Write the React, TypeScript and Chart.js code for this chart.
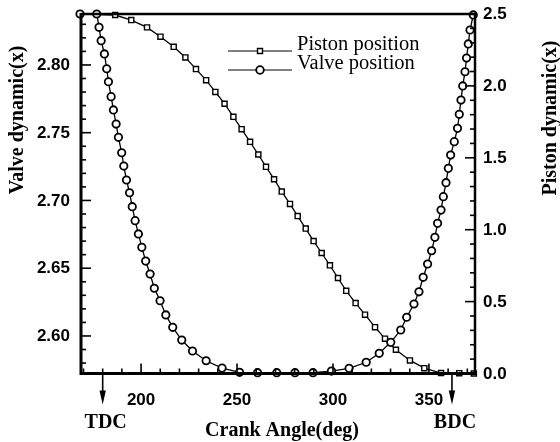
import React, { useEffect, useRef } from 'react';
import { Chart, registerables } from 'chart.js';

Chart.register(...registerables);

// Crank angle (deg) and valve dynamic (x), left axis
const valveAngle = [168.2, 176.9, 178.1, 179.2, 180.9, 182.1, 183.0, 184.4, 185.6, 187.0, 188.2, 189.9, 191.0, 192.4, 194.0, 195.4, 196.9, 198.6, 200.4, 202.4, 204.7, 206.9, 209.9, 212.9, 216.5, 221.2, 226.8, 233.9, 242.2, 251.3, 260.7, 270.7, 280.2, 289.6, 299.2, 308.4, 317.3, 324.1, 330.1, 335.3, 338.4, 342.2, 344.8, 347.0, 349.3, 351.4, 353.1, 354.5, 356.3, 357.5, 358.9, 360.1, 361.3, 363.2, 364.9, 365.8, 366.7, 367.6, 368.8, 369.6, 370.5, 371.4, 373.1];
const valveValue = [2.8376, 2.8376, 2.8278, 2.8179, 2.8081, 2.7972, 2.7876, 2.7766, 2.7668, 2.7564, 2.7466, 2.7352, 2.7254, 2.7151, 2.7057, 2.6954, 2.6851, 2.6753, 2.6654, 2.6553, 2.6457, 2.6352, 2.6260, 2.6155, 2.6064, 2.5970, 2.5889, 2.5817, 2.5763, 2.5732, 2.5729, 2.5729, 2.5729, 2.5729, 2.5741, 2.5761, 2.5806, 2.5872, 2.5953, 2.6044, 2.6138, 2.6236, 2.6326, 2.6433, 2.6531, 2.6629, 2.6728, 2.6831, 2.6929, 2.7028, 2.7131, 2.7237, 2.7335, 2.7434, 2.7532, 2.7636, 2.7741, 2.7845, 2.7950, 2.8051, 2.8155, 2.8258, 2.8369];

// Crank angle (deg) and piston dynamic (x), right axis
const pistonAngle = [168.2, 186.5, 194.9, 203.1, 210.1, 217.0, 223.1, 228.6, 233.9, 238.7, 243.5, 248.1, 252.4, 256.8, 261.1, 265.1, 269.3, 273.3, 277.6, 281.6, 285.8, 289.9, 294.1, 298.4, 302.6, 306.9, 311.8, 316.7, 321.9, 327.1, 332.8, 340.1, 347.6, 356.3, 365.8, 373.4];
const pistonValue = [2.5, 2.493, 2.458, 2.407, 2.342, 2.272, 2.198, 2.117, 2.040, 1.958, 1.876, 1.785, 1.699, 1.611, 1.523, 1.437, 1.351, 1.265, 1.179, 1.095, 1.008, 0.921, 0.838, 0.752, 0.664, 0.575, 0.490, 0.409, 0.322, 0.242, 0.165, 0.091, 0.037, 0.003, 0.002, 0];

const xTickLabels = [200, 250, 300, 350];
const leftTickLabels = [2.60, 2.65, 2.70, 2.75, 2.80];
const rightTickLabels = [0.0, 0.5, 1.0, 1.5, 2.0, 2.5];
const deadCentreNames = ['TDC', 'BDC'];
const deadCentreAngles = [180, 362];

const X_MIN = 168.7, X_MAX = 374;
const YL_MIN = 2.5723, YL_MAX = 2.8376;
const YR_MIN = 0, YR_MAX = 2.5;

const SANS = '"Liberation Sans", Arial, sans-serif';
const SERIF = '"Liberation Serif", "Times New Roman", serif';

function range(from: number, to: number, step: number): number[] {
  const out: number[] = [];
  const n = Math.round((to - from) / step);
  for (let i = 0; i <= n; i++) out.push(+(from + i * step).toFixed(4));
  return out;
}

const axesPlugin = {
  id: 'tecplotAxes',
  afterDatasetsDraw(chart: any) {
    const { ctx, chartArea: a, scales } = chart;
    const sx = scales.x, syl = scales.y, syr = scales.y1;
    ctx.save();
    ctx.strokeStyle = '#000';
    ctx.fillStyle = '#000';
    ctx.lineCap = 'butt';

    // frame
    ctx.lineWidth = 3;
    ctx.beginPath();
    ctx.moveTo(a.left, a.top - 1);
    ctx.lineTo(a.left, a.bottom + 1.5);
    ctx.moveTo(a.left - 1.5, a.bottom);
    ctx.lineTo(a.right + 1.5, a.bottom);
    ctx.stroke();
    ctx.lineWidth = 2.5;
    ctx.beginPath();
    ctx.moveTo(a.left, a.top);
    ctx.lineTo(a.right, a.top);
    ctx.moveTo(a.right, a.top - 1);
    ctx.lineTo(a.right, a.bottom);
    ctx.stroke();

    const isMajor = (v: number, majors: number[]) => majors.some((m) => Math.abs(m - v) < 1e-6);

    ctx.lineWidth = 1.6;
    // bottom ticks (inward)
    for (const v of range(170, 370, 10)) {
      const px = sx.getPixelForValue(v);
      const len = isMajor(v, xTickLabels) ? 10 : 5;
      ctx.beginPath();
      ctx.moveTo(px, a.bottom);
      ctx.lineTo(px, a.bottom - len);
      ctx.stroke();
    }
    // left ticks
    for (const v of range(2.58, 2.83, 0.01)) {
      const py = syl.getPixelForValue(v);
      const len = isMajor(v, leftTickLabels) ? 10 : 5;
      ctx.beginPath();
      ctx.moveTo(a.left, py);
      ctx.lineTo(a.left + len, py);
      ctx.stroke();
    }
    // right ticks
    for (const v of range(0, 2.5, 0.1)) {
      const py = syr.getPixelForValue(v);
      const len = isMajor(v, rightTickLabels) ? 10 : 5;
      ctx.beginPath();
      ctx.moveTo(a.right, py);
      ctx.lineTo(a.right - len, py);
      ctx.stroke();
    }

    // tick labels
    ctx.font = `bold 17px ${SANS}`;
    ctx.textBaseline = 'middle';
    ctx.textAlign = 'center';
    for (const v of xTickLabels) {
      ctx.fillText(String(v), sx.getPixelForValue(v), a.bottom + 27);
    }
    ctx.textAlign = 'right';
    for (const v of leftTickLabels) {
      ctx.fillText(v.toFixed(2), a.left - 11, syl.getPixelForValue(v) + 0.5);
    }
    ctx.textAlign = 'left';
    for (const v of rightTickLabels) {
      ctx.fillText(v.toFixed(1), a.right + 8, syr.getPixelForValue(v) + 0.5);
    }

    // TDC / BDC arrows
    deadCentreAngles.forEach((ang, i) => {
      const px = sx.getPixelForValue(ang);
      ctx.lineWidth = 1.6;
      ctx.beginPath();
      ctx.moveTo(px, a.bottom + 1);
      ctx.lineTo(px, a.bottom + 22);
      ctx.stroke();
      ctx.beginPath();
      ctx.moveTo(px - 3.2, a.bottom + 17);
      ctx.lineTo(px + 3.2, a.bottom + 17);
      ctx.lineTo(px, a.bottom + 31);
      ctx.closePath();
      ctx.fill();
      ctx.font = `bold 20px ${SERIF}`;
      ctx.textAlign = 'center';
      ctx.textBaseline = 'middle';
      ctx.fillText(deadCentreNames[i], px + 3, a.bottom + 49);
    });

    // axis titles
    ctx.font = `bold 20px ${SERIF}`;
    ctx.textAlign = 'center';
    ctx.textBaseline = 'middle';
    ctx.fillText('Crank Angle(deg)', 282, 431);

    ctx.save();
    ctx.translate(18, 120);
    ctx.rotate(-Math.PI / 2);
    ctx.fillText('Valve dynamic(x)', 0, 0);
    ctx.restore();

    ctx.save();
    ctx.translate(551, 118);
    ctx.rotate(-Math.PI / 2);
    ctx.fillText('Piston dynamic(x)', 0, 0);
    ctx.restore();

    // legend
    const ds = chart.data.datasets;
    const rows = [
      { label: ds[1].label, y: 51, style: 'rect' },
      { label: ds[0].label, y: 70, style: 'circle' },
    ];
    for (const r of rows) {
      ctx.lineWidth = 1;
      ctx.beginPath();
      ctx.moveTo(228, r.y);
      ctx.lineTo(292, r.y);
      ctx.stroke();
      ctx.fillStyle = '#fff';
      ctx.lineWidth = r.style === 'rect' ? 1.4 : 1.8;
      ctx.beginPath();
      if (r.style === 'rect') {
        ctx.rect(257.5, r.y - 2.5, 5, 5);
      } else {
        ctx.arc(260, r.y, 3.8, 0, Math.PI * 2);
      }
      ctx.fill();
      ctx.stroke();
      ctx.fillStyle = '#000';
      ctx.font = `20.5px ${SERIF}`;
      ctx.textAlign = 'left';
      ctx.textBaseline = 'alphabetic';
      ctx.fillText(r.label, 297, r.y - 1);
    }

    ctx.restore();
  },
};

export default function App() {
  const ref = useRef<HTMLCanvasElement>(null);

  useEffect(() => {
    const canvas = ref.current;
    if (!canvas) return;
    const chart = new Chart(canvas, {
      type: 'scatter',
      data: {
        datasets: [
          {
            label: 'Valve position',
            data: valveAngle.map((x, i) => ({ x, y: valveValue[i] })),
            yAxisID: 'y',
            showLine: true,
            borderColor: '#000',
            borderWidth: 1.3,
            pointStyle: 'circle',
            pointRadius: 3.7,
            pointBorderWidth: 1.8,
            pointBackgroundColor: '#fff',
            pointBorderColor: '#000',
            clip: false,
          } as any,
          {
            label: 'Piston position',
            data: pistonAngle.map((x, i) => ({ x, y: pistonValue[i] })),
            yAxisID: 'y1',
            showLine: true,
            borderColor: '#000',
            borderWidth: 1.3,
            pointStyle: 'rect',
            pointRadius: 3.6,
            pointBorderWidth: 1.4,
            pointBackgroundColor: '#fff',
            pointBorderColor: '#000',
            clip: false,
          } as any,
        ],
      },
      options: {
        responsive: false,
        animation: false,
        devicePixelRatio: 1,
        events: [],
        layout: { padding: { left: 81, right: 85, top: 14, bottom: 68.5 } },
        plugins: { legend: { display: false }, tooltip: { enabled: false } },
        scales: {
          x: { type: 'linear', display: false, min: X_MIN, max: X_MAX },
          y: { type: 'linear', display: false, min: YL_MIN, max: YL_MAX, position: 'left' },
          y1: { type: 'linear', display: false, min: YR_MIN, max: YR_MAX, position: 'right' },
        },
      } as any,
      plugins: [axesPlugin],
    });
    return () => chart.destroy();
  }, []);

  return (
    <div style={{ position: 'absolute', left: 0, top: 0, width: 560, height: 442, background: '#fff' }}>
      <canvas ref={ref} width={560} height={442} style={{ width: 560, height: 442, display: 'block' }} />
    </div>
  );
}
